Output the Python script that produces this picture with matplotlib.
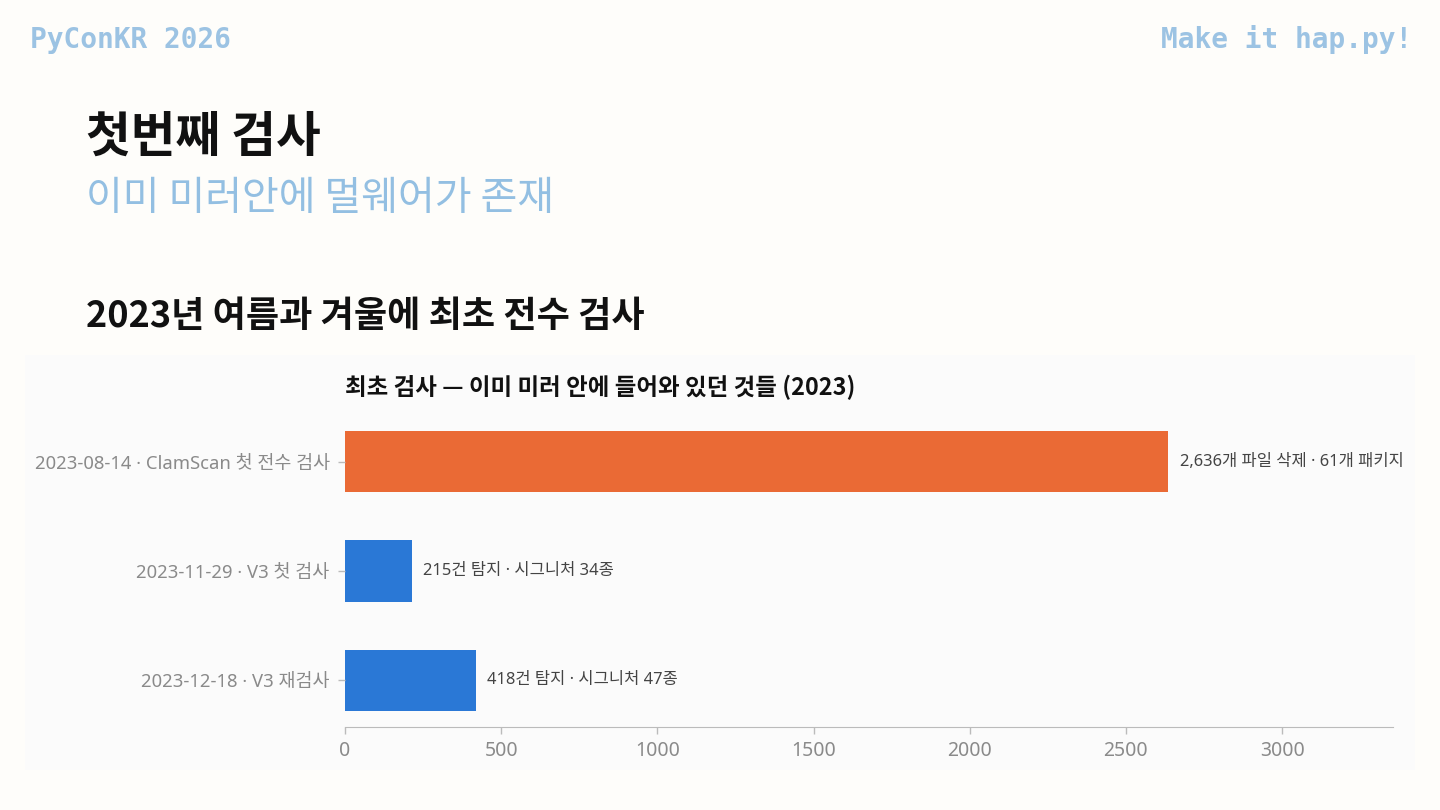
import matplotlib.pyplot as plt
from matplotlib.patches import Rectangle

plt.rcParams['font.family'] = ['Noto Sans CJK KR', 'DejaVu Sans']
mixed = ['Noto Sans', 'Noto Sans CJK KR']

# data
labels = ["2023-08-14 · ClamScan 첫 전수 검사",
          "2023-11-29 · V3 첫 검사",
          "2023-12-18 · V3 재검사"]
values = [2636, 215, 418]
notes = ["2,636개 파일 삭제 · 61개 패키지",
         "215건 탐지 · 시그니처 34종",
         "418건 탐지 · 시그니처 47종"]
colors = ["#EA6A35", "#2A78D6", "#2A78D6"]
xticks = [0, 500, 1000, 1500, 2000, 2500, 3000]

W, H = 1440, 810
fig = plt.figure(figsize=(14.4, 8.1), dpi=100)
fig.patch.set_facecolor("#fefdfa")

# chart panel
fig.patches.append(Rectangle((25 / W, 1 - 770 / H), 1390 / W, 415 / H,
                             transform=fig.transFigure, facecolor="#fbfbfb",
                             edgecolor="none", zorder=-10))

# slide header texts
header = "#9cc3e3"
fig.text(30 / W, 1 - 40 / H, "PyConKR 2026", family="DejaVu Sans Mono",
         fontweight="bold", fontsize=20, color=header, va="center", ha="left")
fig.text(1412 / W, 1 - 40 / H, "Make it hap.py!", family="DejaVu Sans Mono",
         fontweight="bold", fontsize=20, color=header, va="center", ha="right")

fig.text(86 / W, 1 - 137 / H, "첫번째 검사", fontsize=35, fontweight="bold",
         color="#111111", va="center", ha="left")
fig.text(86 / W, 1 - 199 / H, "이미 미러안에 멀웨어가 존재", fontsize=28.8,
         fontweight="light", color="#93bfe2", va="center", ha="left")
fig.text(86 / W, 1 - 316 / H, "2023년 여름과 겨울에 최초 전수 검사", fontsize=26,
         fontweight="bold", color="#111111", va="center", ha="left")

# bar chart
ax = fig.add_axes([345 / W, 1 - 727 / H, 1048 / W, 312 / H])
ax.set_facecolor("none")
pos = list(range(len(values)))
ax.barh(pos, values, height=0.56, color=colors)
for p, v, n in zip(pos, values, notes):
    ax.annotate(n, (v, p), xytext=(8, 0), textcoords="offset points",
                va="center", ha="left", fontsize=11.9, color="#444444",
                family=mixed)

ax.set_ylim(2.43, -0.43)
ax.set_xlim(0, 3355)
ax.set_yticks(pos)
ax.set_yticklabels(labels, fontsize=13.3, color="#8a8a8a", family=mixed)
ax.set_xticks(xticks)
ax.set_xticklabels([str(t) for t in xticks], fontsize=14, color="#8a8a8a",
                   family=mixed)
ax.tick_params(axis="both", color="#bbbbbb", length=5, width=1)
ax.tick_params(axis="y", pad=6)
ax.tick_params(axis="x", pad=5)
for s in ["top", "right", "left"]:
    ax.spines[s].set_visible(False)
ax.spines["bottom"].set_color("#bbbbbb")

ax.set_title("최초 검사 — 이미 미러 안에 들어와 있던 것들 (2023)", loc="left",
             fontsize=16.9, fontweight="bold", color="#111111", pad=14)

fig.savefig("out.png", dpi=100, facecolor=fig.get_facecolor())
